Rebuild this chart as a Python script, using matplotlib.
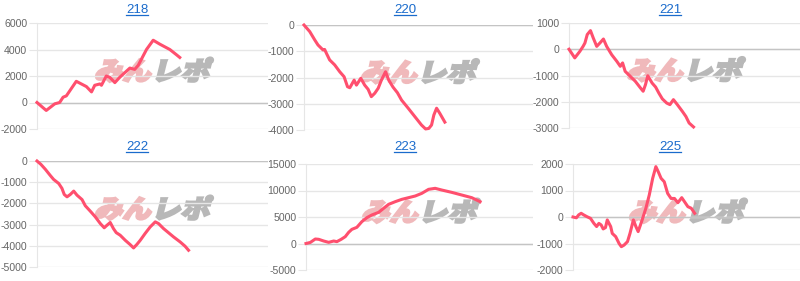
import matplotlib
matplotlib.use("Agg")
import matplotlib.pyplot as plt
from matplotlib.ticker import FuncFormatter, MultipleLocator
from matplotlib.font_manager import FontProperties
from matplotlib.textpath import TextPath
from matplotlib.patches import PathPatch
from matplotlib.lines import Line2D
from matplotlib.transforms import Affine2D, IdentityTransform

plt.rcParams["axes.unicode_minus"] = False
plt.rcParams["font.family"] = ["Liberation Sans", "DejaVu Sans"]

# machine numbers
titles = ["218", "220", "221", "222", "223", "225"]

# x = progress through the day (% of axis), y = medal difference
x_218 = [0, 4, 7.7, 9.8, 11.3, 12.7, 17, 21.4, 23.6, 25, 27.2, 27.9, 30, 31.5, 33.7, 35.8,
         40.2, 42.3, 43.8, 47.4, 50.3, 53.2, 57.5, 60.4, 61.8]
y_218 = [0, -600, -100, 0, 400, 500, 1600, 1200, 800, 1300, 1400, 1300, 2000, 1900, 1500, 1900,
         2600, 2500, 2800, 4000, 4700, 4400, 4000, 3600, 3400]

x_220 = [0, 2.5, 4.7, 6.1, 8.3, 9.0, 9.8, 11.2, 13.4, 15.6, 17.5, 19.0, 20.0, 21.9, 22.9, 24.8,
         26.5, 28.0, 29.4, 30.9, 32.4, 33.8, 35.6, 37.0, 38.9, 40.8, 42.6, 45.5, 48.4, 51.3,
         53.1, 54.5, 55.7, 56.7, 57.9, 59.3, 61.5]
y_220 = [0, -250, -570, -760, -950, -930, -1080, -1330, -1520, -1780, -1970, -2350, -2390,
         -2100, -2290, -2030, -2290, -2450, -2730, -2600, -2410, -2100, -1780, -2100, -2370,
         -2580, -2860, -3170, -3490, -3810, -3960, -3940, -3810, -3430, -3170, -3365, -3700]

x_221 = [0, 2.5, 4.7, 6.1, 6.9, 7.9, 9.3, 10.5, 12.0, 13.4, 14.9, 16.3, 18.5, 20.7, 22.2, 23.2,
         24.3, 26.5, 28.7, 30.9, 32.1, 33.1, 34.1, 36.0, 37.5, 38.9, 40.4, 42.3, 43.7, 45.2,
         46.9, 49.1, 50.6, 52.0, 53.9]
y_221 = [0, -330, -80, 110, 240, 560, 710, 430, 110, 240, 390, 110, -210, -460, -650, -520,
         -840, -1030, -1220, -1470, -1600, -1350, -1010, -1290, -1440, -1670, -1890, -2050,
         -2110, -1920, -2110, -2370, -2560, -2810, -2960]

x_222 = [0, 1.7, 3.6, 5.8, 7.2, 9.4, 10.8, 11.8, 13.0, 14.4, 15.9, 17.3, 19.5, 20.9, 23.1, 25.2,
         27.4, 29.1, 30.3, 31.7, 33.1, 34.3, 36.0, 38.2, 40.3, 41.8, 43.2, 44.7, 46.8, 49.0,
         51.2, 52.6, 54.8, 56.9, 59.1, 62.0, 64.1, 65.6]
y_222 = [0, -160, -390, -690, -870, -1060, -1290, -1580, -1690, -1580, -1420, -1610, -1820,
         -2110, -2370, -2630, -2950, -3150, -3030, -2900, -3190, -3380, -3500, -3740, -3940,
         -4100, -3940, -3740, -3420, -3110, -2870, -2950, -3190, -3380, -3580, -3820, -4020, -4210]

x_223 = [0, 1.9, 4.1, 5.6, 7.8, 10.0, 12.2, 13.6, 15.5, 17.3, 18.8, 20.2, 22.4, 24.6, 26.8, 29.0,
         32.0, 34.2, 36.4, 39.3, 42.2, 45.2, 48.1, 51.0, 54.0, 56.9, 59.8, 64.2, 68.6, 73.0, 76.7]
y_223 = [0, 200, 850, 790, 470, 220, 470, 350, 790, 1290, 2110, 2670, 3050, 4120, 4870, 5380,
         5880, 6640, 7390, 7890, 8330, 8650, 8960, 9460, 10220, 10410, 10090, 9650, 9150, 8650, 7890]

x_225 = [0, 1.5, 2.5, 3.6, 4.7, 6.2, 7.7, 9.2, 10.4, 11.4, 12.4, 13.3, 14.3, 15.1, 16.6, 17.3,
         18.8, 20.3, 21.3, 22.5, 24.0, 25.1, 26.6, 27.7, 28.7, 30.2, 32.1, 33.6, 35.1, 36.5,
         37.6, 38.8, 40.2, 41.7, 43.2, 44.7, 46.2, 47.9, 49.1, 50.6, 52.1, 53.6]
y_225 = [0, -30, 80, 140, 80, 10, -50, -240, -360, -240, -300, -450, -400, -110, -360, -620,
         -740, -1000, -1120, -1060, -930, -620, -110, -360, -550, -180, 330, 830, 1460, 1900,
         1700, 1460, 1330, 890, 700, 700, 540, 730, 580, 390, 330, 140]

series = [(x_218, y_218), (x_220, y_220), (x_221, y_221),
          (x_222, y_222), (x_223, y_223), (x_225, y_225)]
ylims = [(-2000, 6000), (-4000, 0), (-3000, 1000), (-5000, 0), (-5000, 15000), (-2000, 2000)]
ysteps = [2000, 1000, 1000, 1000, 5000, 1000]

# plot boxes in pixels: left, top, right, bottom
W, H = 800, 281
boxes = [(37, 23, 268, 129), (304, 25, 533, 130), (569, 23, 800, 128),
         (37, 161, 268, 267), (306, 164, 533, 270), (573, 164, 800, 270)]
title_x = [137, 405, 670, 137, 405, 670]
title_base = [13, 13, 13, 150, 150, 150]

LINE = "#ff4f6e"
GRID = "#e6e6e6"

fig = plt.figure(figsize=(W / 100, H / 100), dpi=100)
axes = []
for i in range(6):
    l, t, r, b = boxes[i]
    ax = fig.add_axes([l / W, (H - b) / H, (r - l) / W, (b - t) / H])
    xs, ys = series[i]
    ax.plot(xs, ys, color=LINE, lw=2.2, zorder=5, clip_on=False, solid_joinstyle="round")
    ax.set_xlim(0, 100)
    ax.set_ylim(*ylims[i])
    ax.yaxis.set_major_locator(MultipleLocator(ysteps[i]))
    ax.yaxis.set_major_formatter(FuncFormatter(lambda v, _: "%d" % v))
    ax.set_xticks([])
    ax.grid(axis="y", color=GRID, lw=1)
    ax.axhline(0, color="#c4c4c4", lw=1, zorder=2)
    for s in ["top", "right", "bottom"]:
        ax.spines[s].set_visible(False)
    ax.spines["left"].set_color(GRID)
    ax.tick_params(axis="y", length=6, color=GRID, labelcolor="#666666", labelsize=7.6, pad=1)
    axes.append(ax)

fig.canvas.draw()
renderer = fig.canvas.get_renderer()

# titles with underline (they are links in the original page)
for i in range(6):
    yb = H - title_base[i]
    t = fig.text(title_x[i] / W, yb / H, titles[i], ha="center", va="baseline",
                 fontsize=9.5, color="#1a6bcc")
    bb = t.get_window_extent(renderer)
    fig.add_artist(Line2D([bb.x0, bb.x1], [yb - 2, yb - 2], color="#1a6bcc", lw=0.9,
                          transform=IdentityTransform()))

# watermark
wm_font = FontProperties(family="Noto Sans CJK JP", weight="black")
for ax in axes:
    bb = ax.get_window_extent(renderer)
    cx = (bb.x0 + bb.x1) / 2
    cy = (bb.y0 + bb.y1) / 2 + 6
    p1 = TextPath((0, 0), "みん", size=27, prop=wm_font)
    p2 = TextPath((0, 0), "レポ", size=27, prop=wm_font)
    w1 = p1.get_extents().width
    w2 = p2.get_extents().width
    gap = 5
    total = w1 + w2 + gap
    x0 = cx - total / 2 - 6
    y0 = cy - 10
    tr1 = Affine2D().scale(1.05, 0.95).skew_deg(14, 0).translate(x0, y0)
    tr2 = Affine2D().scale(1.08, 0.95).skew_deg(14, 0).translate(x0 + w1 + gap, y0)
    fig.add_artist(PathPatch(p1, transform=tr1, facecolor="#f0b9bb", edgecolor="#f0b9bb",
                             lw=1.6, zorder=3))
    fig.add_artist(PathPatch(p2, transform=tr2, facecolor="#b8b8b8", edgecolor="#b8b8b8",
                             lw=1.6, zorder=3))

# put the lines back on top of the watermark
for ax in axes:
    ax.set_zorder(4)
    ax.patch.set_visible(False)

fig.savefig("out.png", dpi=100, facecolor="white")
